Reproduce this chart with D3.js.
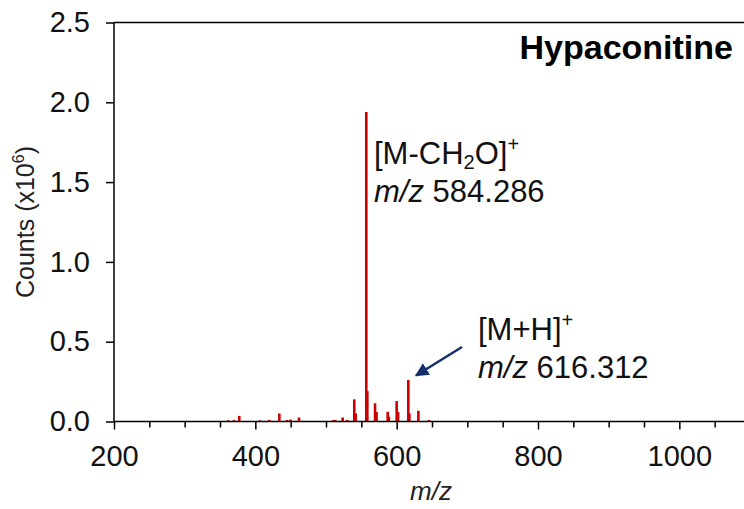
<!DOCTYPE html>
<html><head><meta charset="utf-8">
<script src="https://cdn.jsdelivr.net/npm/d3@7"></script>
<style>body{margin:0;background:#fff}svg{display:block}text{font-family:"Liberation Sans",Arial,sans-serif}</style>
</head><body><svg id="c" width="744" height="509"></svg>
<script>
// m/z of each peak and its intensity (x10^6 counts)
const peakMz = [361.8,370,377.3,406.6,419.8,434,445,450,461.8,510,513,523.6,530,540,542,557,558.5,569.4,571.5,587.3,589,600,602,616.5,618,630.7,645.8];
const peakCounts = [0.008,0.01,0.035,0.008,0.01,0.05,0.01,0.012,0.025,0.008,0.01,0.025,0.01,0.139,0.05,1.94,0.19,0.114,0.06,0.061,0.03,0.128,0.06,0.26,0.05,0.067,0.01];
const xMajorTicks = [200,400,600,800,1000];
const yTicks = [0,0.5,1.0,1.5,2.0,2.5];
const title = "Hypaconitine";

const svg = d3.select("#c");
const x = d3.scaleLinear().domain([200,1100]).range([114,750]);
const y = d3.scaleLinear().domain([0,2.5]).range([421.5,22.5]);

// frame top line
svg.append("line").attr("x1",114).attr("x2",744).attr("y1",y(2.5)).attr("y2",y(2.5)).attr("stroke","#000").attr("stroke-width",1.5);

// peaks
svg.append("g").selectAll("line").data(peakMz.map((m,i)=>({m,c:peakCounts[i]}))).join("line")
  .attr("x1",d=>x(d.m)).attr("x2",d=>x(d.m)).attr("y1",y(0)).attr("y2",d=>y(d.c))
  .attr("stroke","#cc0000").attr("stroke-width",2.6);

// x axis
const minor = d3.range(200,1100,50).filter(v=>!xMajorTicks.includes(v));
const gxMinor = svg.append("g").attr("transform",`translate(0,${y(0)})`)
  .call(d3.axisBottom(x).tickValues(minor).tickSize(6).tickFormat(""));
gxMinor.select(".domain").remove();
gxMinor.selectAll("line").attr("stroke","#000").attr("stroke-width",1.5);
const gx = svg.append("g").attr("transform",`translate(0,${y(0)})`)
  .call(d3.axisBottom(x).tickValues(xMajorTicks).tickSize(8).tickPadding(16).tickFormat(d3.format("d")));
gx.select(".domain").attr("d",`M114,0H744`).attr("stroke","#000").attr("stroke-width",1.5);
gx.selectAll("line").attr("stroke","#000").attr("stroke-width",1.5);
gx.selectAll("text").attr("font-size",29).attr("fill","#111").attr("font-family","Liberation Sans, Arial, sans-serif");

// y axis
const gy = svg.append("g").attr("transform",`translate(114,0)`)
  .call(d3.axisLeft(y).tickValues(yTicks).tickSize(8).tickPadding(16).tickFormat(d3.format(".1f")));
gy.select(".domain").attr("d",`M0,${y(2.5)}V${y(0)}`).attr("stroke","#000").attr("stroke-width",1.5);
gy.selectAll("line").attr("stroke","#000").attr("stroke-width",1.5);
gy.selectAll("text").attr("font-size",29).attr("fill","#111").attr("font-family","Liberation Sans, Arial, sans-serif");

// axis titles
const yl = svg.append("text").attr("transform","translate(34,222) rotate(-90)").attr("text-anchor","middle")
  .attr("font-size",25).attr("fill","#222");
yl.append("tspan").text("Counts (x10");
yl.append("tspan").text("6").attr("font-size",16).attr("dy",-10);
yl.append("tspan").text(")").attr("dy",10);
svg.append("text").attr("x",431).attr("y",500).attr("text-anchor","middle").attr("font-size",26)
  .attr("font-style","italic").attr("fill","#222").text("m/z");

// title
svg.append("text").attr("x",733).attr("y",59).attr("text-anchor","end").attr("font-size",34)
  .attr("font-weight","bold").attr("fill","#000").text(title);

// annotations
function label(xp, yp, parts){
  const t = svg.append("text").attr("x",xp).attr("y",yp).attr("font-size",31).attr("fill","#111");
  parts.forEach(p=>{
    const s = t.append("tspan").text(p.t);
    if(p.s) s.attr("font-size",p.s);
    if(p.dy) s.attr("dy",p.dy);
    if(p.i) s.attr("font-style","italic");
  });
}
label(374,164,[{t:"[M-CH"},{t:"2",s:20,dy:5},{t:"O]",dy:-5},{t:"+",s:20,dy:-13}]);
label(374,202,[{t:"m/z",i:true},{t:" 584.286"}]);
label(478,340,[{t:"[M+H]"},{t:"+",s:20,dy:-13}]);
label(478,378,[{t:"m/z",i:true},{t:" 616.312"}]);

// arrow
const defs = svg.append("defs");
defs.append("marker").attr("id","ah").attr("viewBox","0 0 10 10").attr("refX",9).attr("refY",5)
  .attr("markerWidth",5.5).attr("markerHeight",5.5).attr("markerUnits","strokeWidth").attr("orient","auto")
  .append("path").attr("d","M0,0L10,5L0,10Z").attr("fill","#14306b");
svg.append("line").attr("x1",462).attr("y1",347).attr("x2",416).attr("y2",375.5)
  .attr("stroke","#14306b").attr("stroke-width",2.5).attr("marker-end","url(#ah)");
</script></body></html>
